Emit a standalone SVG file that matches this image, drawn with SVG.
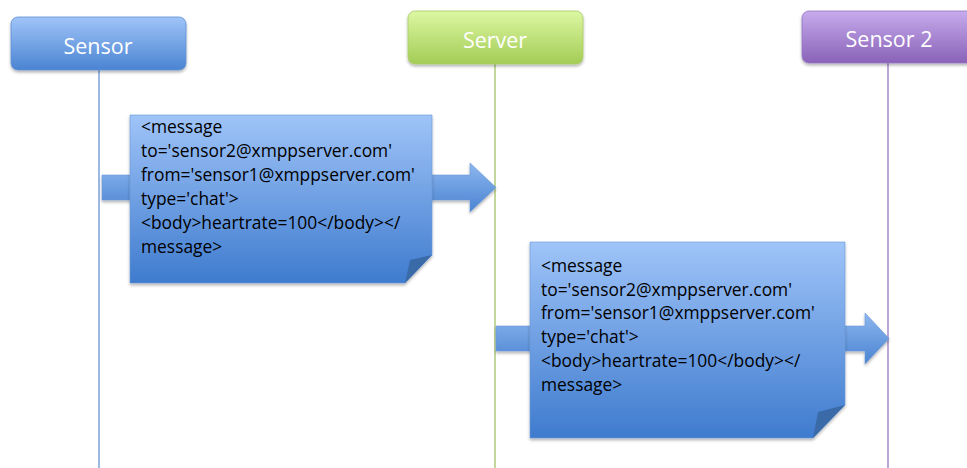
<svg xmlns="http://www.w3.org/2000/svg" width="967" height="468" viewBox="0 0 967 468">
<defs>
<linearGradient id="gBlue" x1="0" y1="0" x2="0" y2="1"><stop offset="0" stop-color="#a0c4f8"/><stop offset="1" stop-color="#4a84d2"/></linearGradient>
<linearGradient id="gGreen" x1="0" y1="0" x2="0" y2="1"><stop offset="0" stop-color="#dcf7a2"/><stop offset="1" stop-color="#a4cc56"/></linearGradient>
<linearGradient id="gPurple" x1="0" y1="0" x2="0" y2="1"><stop offset="0" stop-color="#c6abec"/><stop offset="1" stop-color="#8a62b8"/></linearGradient>
<linearGradient id="gNote" x1="0" y1="0" x2="0" y2="1"><stop offset="0" stop-color="#9fc4f8"/><stop offset="1" stop-color="#3f7bce"/></linearGradient>
<linearGradient id="gArrow" x1="0" y1="0" x2="0" y2="1"><stop offset="0" stop-color="#8db6ef"/><stop offset="1" stop-color="#4a84d2"/></linearGradient>
<filter id="sh" x="-10%" y="-10%" width="120%" height="130%"><feDropShadow dx="0" dy="2" stdDeviation="1.5" flood-color="#000" flood-opacity="0.3"/></filter>
<style>
.hdr{font-family:"Open Sans","Liberation Sans",sans-serif;font-size:21.5px;fill:#fff;text-anchor:middle}
.msg{font-family:"Open Sans","Liberation Sans",sans-serif;font-size:17.4px;fill:#000}
.life{stroke-width:1.2;fill:none}
</style>
</defs>
<g id="lifelines">
<line class="life" x1="99" y1="70" x2="99" y2="468" stroke="#5b8bd2"/>
<line class="life" x1="495" y1="64" x2="495" y2="468" stroke="#9bbb59"/>
<line class="life" x1="888" y1="63" x2="888" y2="468" stroke="#8f6cc0"/>
</g>
<g id="sensor">
<rect x="11" y="17" width="175" height="53" rx="7" fill="url(#gBlue)" stroke="#5f8fd4" stroke-width="0.8" filter="url(#sh)"/>
<text class="hdr" x="98" y="54">Sensor</text>
</g>
<g id="server">
<rect x="408" y="11" width="175" height="53" rx="7" fill="url(#gGreen)" stroke="#a8cc66" stroke-width="0.8" filter="url(#sh)"/>
<text class="hdr" x="495" y="48">Server</text>
</g>
<g id="sensor2">
<rect x="802" y="11" width="185" height="52" rx="7" fill="url(#gPurple)" stroke="#9676c4" stroke-width="0.8" filter="url(#sh)"/>
<text class="hdr" x="889" y="47">Sensor 2</text>
</g>
<g id="connectors">
<path d="M102 175 H470 V163 L496 187.5 L470 212 V200 H102 Z" fill="url(#gArrow)" stroke="#6a98d8" stroke-width="0.6" filter="url(#sh)"/>
<path d="M496 326 H865 V313 L889 338.5 L865 364 V351 H496 Z" fill="url(#gArrow)" stroke="#6a98d8" stroke-width="0.6" filter="url(#sh)"/>
</g>
<g id="note1">
<path d="M130 115 H432 V255 L405 283 H130 Z" fill="url(#gNote)" stroke="#6a98d8" stroke-width="0.6" filter="url(#sh)"/>
<path d="M432 255 L405 283 L410 260 Z" fill="#3a6aa8"/>
<text class="msg" x="141" y="133">&lt;message</text>
<text class="msg" x="141" y="157">to='sensor2@xmppserver.com'</text>
<text class="msg" x="141" y="181">from='sensor1@xmppserver.com'</text>
<text class="msg" x="141" y="205">type='chat'&gt;</text>
<text class="msg" x="141" y="229">&lt;body&gt;heartrate=100&lt;/body&gt;&lt;/</text>
<text class="msg" x="141" y="253">message&gt;</text>
</g>
<g id="note2">
<path d="M530 242 H845 V405 L813 438 H530 Z" fill="url(#gNote)" stroke="#6a98d8" stroke-width="0.6" filter="url(#sh)"/>
<path d="M845 405 L813 438 L818 412 Z" fill="#3a6aa8"/>
<text class="msg" x="541" y="272">&lt;message</text>
<text class="msg" x="541" y="296">to='sensor2@xmppserver.com'</text>
<text class="msg" x="541" y="319">from='sensor1@xmppserver.com'</text>
<text class="msg" x="541" y="343">type='chat'&gt;</text>
<text class="msg" x="541" y="367">&lt;body&gt;heartrate=100&lt;/body&gt;&lt;/</text>
<text class="msg" x="541" y="391">message&gt;</text>
</g>
</svg>
